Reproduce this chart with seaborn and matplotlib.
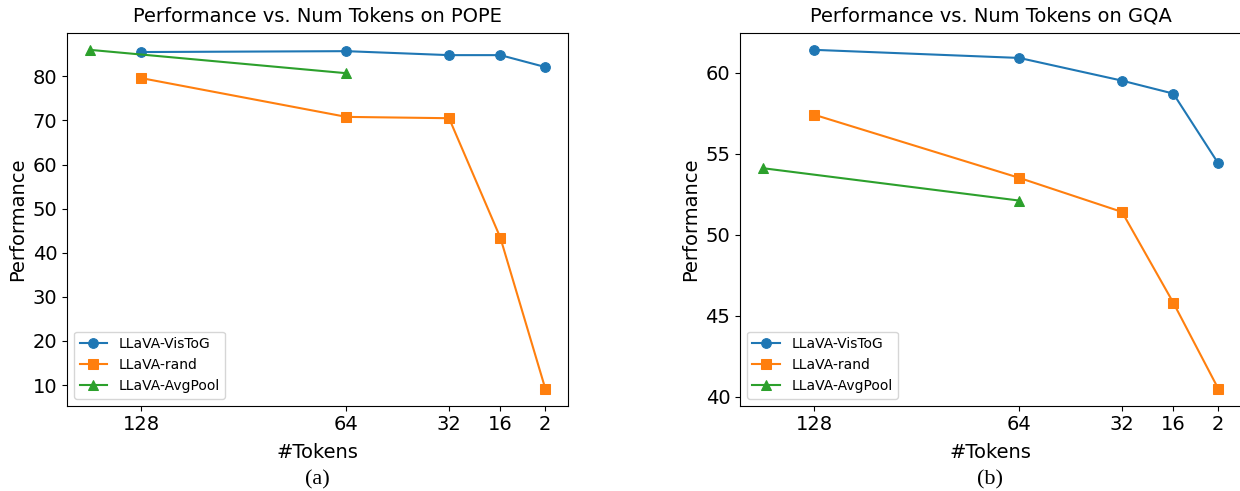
import numpy as np
import pandas as pd
import seaborn as sns
import matplotlib.pyplot as plt

# ===== DATA =====
tokens = [128, 64, 32, 16, 2]
avgpool_tokens = [144, 64]
tick_labels = ["128", "64", "32", "16", "2"]

pope_vistog = [85.5, 85.7, 84.8, 84.8, 82.1]
pope_rand = [79.6, 70.8, 70.5, 43.4, 9.2]
pope_avgpool = [86.0, 80.7]

gqa_vistog = [61.4, 60.9, 59.5, 58.7, 54.4]
gqa_rand = [57.4, 53.5, 51.4, 45.8, 40.5]
gqa_avgpool = [54.1, 52.1]

plt.rcParams["font.family"] = ["DejaVu Sans"]

fig, axes = plt.subplots(1, 2, figsize=(12.4, 4.91), dpi=100)
# right panel runs just past the figure edge, as in the source
fig.subplots_adjust(left=67 / 1240, right=1241 / 1240, top=0.933, bottom=0.174, wspace=0.343)

panels = [
    ("POPE", pope_vistog, pope_rand, pope_avgpool, "(a)"),
    ("GQA", gqa_vistog, gqa_rand, gqa_avgpool, "(b)"),
]
colors = sns.color_palette("tab10")

for ax, (name, vistog, rand, avgpool, cap) in zip(axes, panels):
    sns.lineplot(x=tokens, y=vistog, ax=ax, marker="o", markersize=7, color=colors[0],
                 markeredgecolor=colors[0], label="LLaVA-VisToG")
    sns.lineplot(x=tokens, y=rand, ax=ax, marker="s", markersize=7, color=colors[1],
                 markeredgecolor=colors[1], label="LLaVA-rand")
    sns.lineplot(x=avgpool_tokens, y=avgpool, ax=ax, marker="^", markersize=7, color=colors[2],
                 markeredgecolor=colors[2], label="LLaVA-AvgPool")
    ax.invert_xaxis()
    ax.set_xticks(tokens)
    ax.set_xticklabels(tick_labels)
    ax.tick_params(labelsize=14)
    ax.set_title(f"Performance vs. Num Tokens on {name}", fontsize=14, pad=8)
    ax.set_xlabel("#Tokens", fontsize=14, labelpad=6)
    ax.set_ylabel("Performance", fontsize=14)
    ax.legend(loc="lower left", fontsize=10)
    pos = ax.get_position()
    fig.text((pos.x0 + pos.x1) / 2, 0.022, cap, ha="center", va="center",
             fontsize=16, family=["Liberation Serif"])

fig.savefig("out.png", dpi=100)
